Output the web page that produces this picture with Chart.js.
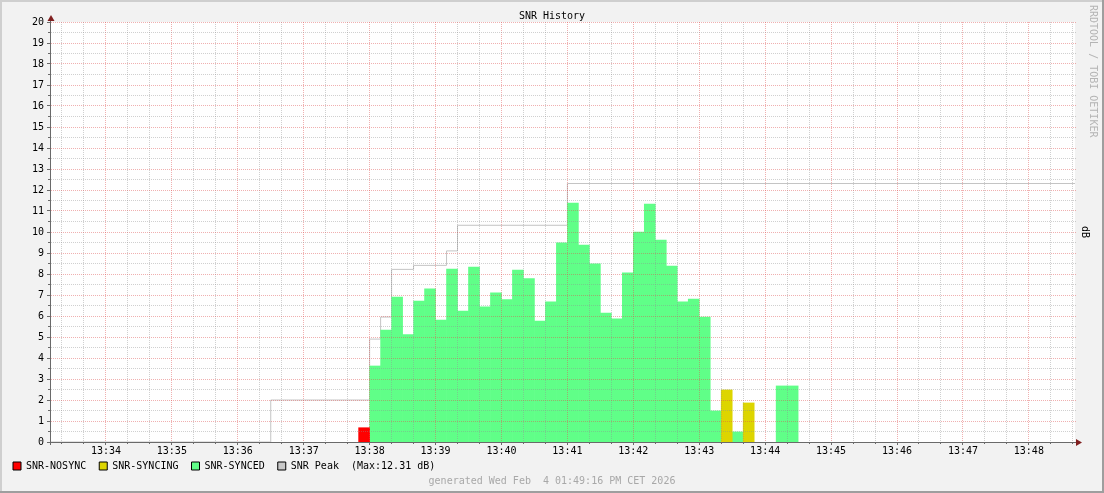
<!DOCTYPE html>
<html>
<head>
<meta charset="utf-8">
<title>SNR History</title>
<script src="https://cdn.jsdelivr.net/npm/chart.js@4.4.1/dist/chart.umd.min.js"></script>
<style>
  html, body { margin: 0; padding: 0; background: #f2f2f2; }
  canvas { display: block; }
</style>
</head>
<body>
<canvas id="snr-chart" width="1104" height="493"></canvas>
<script>
/**
 * SNR samples, one slot every 10 seconds (start time of each slot)
 */
const slotTimes = [
    '13:37:50', '13:38:00', '13:38:10', '13:38:20', '13:38:30', '13:38:40', '13:38:50', '13:39:00',
    '13:39:10', '13:39:20', '13:39:30', '13:39:40', '13:39:50', '13:40:00', '13:40:10', '13:40:20',
    '13:40:30', '13:40:40', '13:40:50', '13:41:00', '13:41:10', '13:41:20', '13:41:30', '13:41:40',
    '13:41:50', '13:42:00', '13:42:10', '13:42:20', '13:42:30', '13:42:40', '13:42:50', '13:43:00',
    '13:43:10', '13:43:20', '13:43:30', '13:43:40', '13:43:50', '13:44:00', '13:44:10', '13:44:20'
];
const snrNosync = [
    0.68, null, null, null, null, null, null, null,
    null, null, null, null, null, null, null, null,
    null, null, null, null, null, null, null, null,
    null, null, null, null, null, null, null, null,
    null, null, null, null, null, null, null, null
];
const snrSyncing = [
    null, null, null, null, null, null, null, null,
    null, null, null, null, null, null, null, null,
    null, null, null, null, null, null, null, null,
    null, null, null, null, null, null, null, null,
    null, 2.48, null, 1.86, null, null, null, null
];
const snrSynced = [
    null, 3.62, 5.33, 6.90, 5.11, 6.71, 7.29, 5.81,
    8.24, 6.24, 8.33, 6.44, 7.10, 6.78, 8.19, 7.78,
    5.76, 6.67, 9.48, 11.38, 9.38, 8.48, 6.14, 5.86,
    8.05, 10.00, 11.33, 9.62, 8.38, 6.67, 6.81, 5.95,
    1.48, null, 0.48, null, null, null, 2.67, 2.67
];

// peak line, value holds until the next time
const peakTimes = ['13:33:10', '13:36:30', '13:38:00', '13:38:10', '13:38:20', '13:38:40', '13:39:10', '13:39:20', '13:41:00', '13:48:42'];
const peakValues = [0, 2.00, 4.90, 5.95, 8.22, 8.41, 9.10, 10.32, 12.31, 12.31];

const timeStart = '13:33:10';
const timeEnd = '13:48:42';
const dbMin = 0;
const dbMax = 20;

const SLOT = 10;
const FONT = "'DejaVu Sans Mono', monospace";
const MAJOR = 'rgba(222,79,79,0.45)';
const MINOR = 'rgba(143,143,143,0.42)';
const AXIS = '#6a6a6a';

/**
 * hh:mm:ss -> seconds of the day
 */
function toSec(hms) {
    const [h, m, s] = hms.split(':').map(Number);
    return h * 3600 + m * 60 + (s || 0);
}

/**
 * seconds -> hh:mm label
 */
function toLabel(sec) {
    const h = Math.floor(sec / 3600);
    const m = Math.floor((sec % 3600) / 60);
    return `${h}:${String(m).padStart(2, '0')}`;
}

function slotPoints(values) {
    let points = [];
    for (let i = 0; i < slotTimes.length; i++) {
        if (values[i] === null) continue;
        points.push({ x: toSec(slotTimes[i]) + SLOT / 2, y: values[i] });
    }
    return points;
}

// grid positions: every 20 s / every 0.5 dB, major each minute / each dB
let xGrid = [];
for (let t = toSec('13:33:20'); t <= toSec(timeEnd); t += 20) xGrid.push(t);
let yGrid = [];
for (let v = dbMin; v <= dbMax; v += 0.5) yGrid.push(v);

const crisp = (p) => Math.round(p - 0.5) + 0.5;

/**
 * RRDtool look: frame, white canvas, dotted grid over the areas, axes with arrows, watermark
 */
const rrdLook = {
    id: 'rrdLook',
    beforeDraw(chart) {
        const { ctx, width, height, chartArea } = chart;
        ctx.save();
        ctx.fillStyle = '#f2f2f2';
        ctx.fillRect(0, 0, width, height);
        ctx.fillStyle = '#cfcfcf';
        ctx.fillRect(0, 0, width, 2);
        ctx.fillRect(0, 0, 2, height);
        ctx.fillStyle = '#9e9e9e';
        ctx.fillRect(width - 2, 0, 2, height);
        ctx.fillRect(0, height - 2, width, 2);
        ctx.fillStyle = '#ffffff';
        ctx.fillRect(chartArea.left, chartArea.top, chartArea.right - chartArea.left, chartArea.bottom - chartArea.top);
        ctx.restore();
    },
    afterDatasetsDraw(chart) {
        const { ctx, chartArea, scales } = chart;
        ctx.save();
        ctx.lineWidth = 1;
        ctx.setLineDash([1, 1]);
        for (const t of xGrid) {
            const px = crisp(scales.x.getPixelForValue(t));
            ctx.strokeStyle = t % 60 === 0 ? MAJOR : MINOR;
            ctx.beginPath();
            ctx.moveTo(px, chartArea.top);
            ctx.lineTo(px, chartArea.bottom);
            ctx.stroke();
        }
        for (const v of yGrid) {
            const py = crisp(scales.y.getPixelForValue(v));
            ctx.strokeStyle = v % 1 === 0 ? MAJOR : MINOR;
            ctx.beginPath();
            ctx.moveTo(chartArea.left, py);
            ctx.lineTo(chartArea.right + 2, py);
            ctx.stroke();
        }
        ctx.restore();
    },
    afterDraw(chart) {
        const { ctx, chartArea, scales } = chart;
        const x0 = chartArea.left - 0.5;
        const y0 = chartArea.bottom + 0.5;
        ctx.save();
        ctx.strokeStyle = AXIS;
        ctx.lineWidth = 1;
        ctx.beginPath();
        ctx.moveTo(x0, chartArea.bottom + 3);
        ctx.lineTo(x0, chartArea.top - 4);
        ctx.moveTo(chartArea.left - 4, y0);
        ctx.lineTo(chartArea.right + 4, y0);
        // tick marks
        for (const t of xGrid) {
            const px = crisp(scales.x.getPixelForValue(t));
            ctx.moveTo(px, chartArea.bottom);
            ctx.lineTo(px, chartArea.bottom + (t % 60 === 0 ? 3 : 2));
        }
        for (const v of yGrid) {
            const py = crisp(scales.y.getPixelForValue(v));
            ctx.moveTo(chartArea.left - (v % 1 === 0 ? 4 : 3), py);
            ctx.lineTo(chartArea.left, py);
        }
        ctx.stroke();

        ctx.fillStyle = '#801f1f';
        ctx.beginPath();
        ctx.moveTo(x0 + 0.5, chartArea.top - 7);
        ctx.lineTo(x0 - 3, chartArea.top - 1);
        ctx.lineTo(x0 + 4, chartArea.top - 1);
        ctx.closePath();
        ctx.fill();
        ctx.beginPath();
        ctx.moveTo(chartArea.right + 7, y0);
        ctx.lineTo(chartArea.right + 1, y0 - 3.5);
        ctx.lineTo(chartArea.right + 1, y0 + 3.5);
        ctx.closePath();
        ctx.fill();

        ctx.translate(1093, 5);
        ctx.rotate(Math.PI / 2);
        ctx.font = `10px ${FONT}`;
        ctx.fillStyle = '#b4b4b4';
        ctx.textAlign = 'left';
        ctx.textBaseline = 'middle';
        ctx.fillText('RRDTOOL / TOBI OETIKER', 0, 0);
        ctx.restore();
    }
};

Chart.defaults.font.family = FONT;
Chart.defaults.font.size = 10;
Chart.defaults.color = '#000';

const peakMax = Math.max(...peakValues);
const ctx = document.getElementById('snr-chart');

// trailing blanks keep the rrdtool spacing between legend entries
const snrChart = new Chart(ctx, {
    type: 'bar',
    data: {
        datasets: [
            { label: 'SNR-NOSYNC  ', data: slotPoints(snrNosync), backgroundColor: '#ff0000' },
            { label: 'SNR-SYNCING  ', data: slotPoints(snrSyncing), backgroundColor: '#ddd500' },
            { label: 'SNR-SYNCED  ', data: slotPoints(snrSynced), backgroundColor: '#60ff88' },
            {
                type: 'line',
                label: `SNR Peak  (Max:${peakMax.toFixed(2)} dB)`,
                data: peakTimes.map((t, i) => ({ x: toSec(t), y: peakValues[i] })),
                borderColor: '#c4c4c4',
                backgroundColor: '#c8c8c8',
                borderWidth: 1,
                pointRadius: 0,
                stepped: true,
                fill: false
            }
        ]
    },
    options: {
        responsive: false,
        animation: false,
        devicePixelRatio: 1,
        grouped: false,
        barPercentage: 1,
        categoryPercentage: 1,
        borderWidth: 0,
        layout: { padding: { left: 12, right: 12, top: 0, bottom: 0 } },
        scales: {
            x: {
                type: 'linear',
                min: toSec(timeStart),
                max: toSec(timeEnd),
                offset: false,
                afterBuildTicks: (axis) => { axis.ticks = xGrid.map((t) => ({ value: t })); },
                afterFit: (axis) => { axis.height = 18; },
                ticks: {
                    autoSkip: false,
                    maxRotation: 0,
                    padding: 3,
                    callback: (value) => (value % 60 === 0 ? toLabel(value) : '')
                },
                grid: { display: false, drawTicks: false, offset: false },
                border: { display: false }
            },
            y: {
                min: dbMin,
                max: dbMax,
                afterBuildTicks: (axis) => { axis.ticks = yGrid.map((v) => ({ value: v })); },
                afterFit: (axis) => { axis.width = 39; },
                ticks: {
                    autoSkip: false,
                    padding: 7,
                    callback: (value) => (value % 1 === 0 ? String(value) : '')
                },
                grid: { display: false, drawTicks: false },
                border: { display: false }
            },
            yR: {
                position: 'right',
                display: true,
                afterFit: (axis) => { axis.width = 17; },
                ticks: { display: false },
                grid: { display: false, drawTicks: false },
                border: { display: false },
                title: { display: true, text: 'dB', padding: { top: 1, bottom: 0 } }
            }
        },
        plugins: {
            title: {
                display: true,
                text: 'SNR History',
                font: { size: 10, weight: 'normal' },
                padding: { top: 10, bottom: 0 }
            },
            subtitle: {
                display: true,
                position: 'bottom',
                text: 'generated Wed Feb  4 01:49:16 PM CET 2026',
                color: '#a8a8a8',
                font: { size: 10, weight: 'normal' },
                padding: { top: 0, bottom: 6 }
            },
            legend: {
                position: 'bottom',
                align: 'start',
                maxHeight: 15,
                labels: {
                    boxWidth: 8,
                    boxHeight: 8,
                    padding: 1,
                    generateLabels: (chart) => {
                        const items = Chart.defaults.plugins.legend.labels.generateLabels(chart);
                        return items.map((item) => ({
                            ...item,
                            fillStyle: chart.data.datasets[item.datasetIndex].backgroundColor,
                            strokeStyle: '#000',
                            lineWidth: 1,
                            lineDash: [],
                            fontColor: '#000'
                        }));
                    }
                }
            },
            tooltip: { enabled: false }
        }
    },
    plugins: [rrdLook]
});
</script>
</body>
</html>
